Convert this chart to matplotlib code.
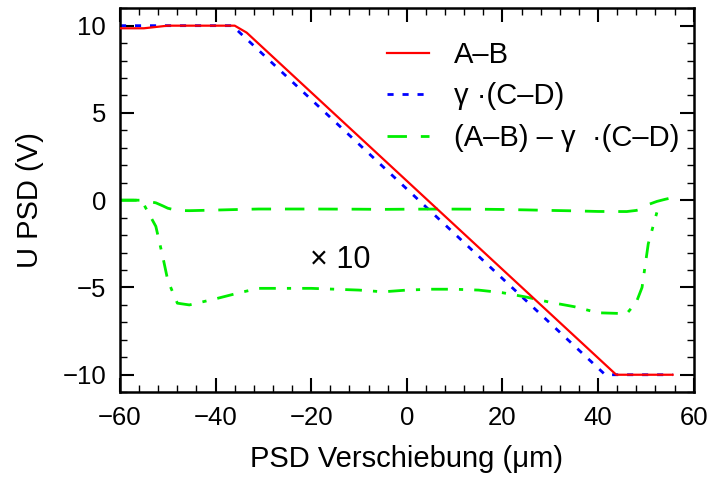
import matplotlib
matplotlib.use("Agg")
import matplotlib.pyplot as plt
import numpy as np
from matplotlib.ticker import MultipleLocator

plt.rcParams['font.family'] = ['Liberation Sans', 'DejaVu Sans']
plt.rcParams['axes.unicode_minus'] = True

# A-B signal
x_ab = [-60, -55, -50, -36, -33.5, 43.8, 55.6]
u_ab = [9.85, 9.85, 10.0, 10.0, 9.6, -10.0, -10.0]

# gamma*(C-D) signal
x_cd = [-60, -36.5, 41.5, 55.6]
u_cd = [10.0, 10.0, -10.0, -10.0]

# difference (A-B) - gamma*(C-D)
x_diff = [-60, -55.5, -52.5, -51, -50, -48, -45.5, -40, -35, -31, -25, -20, -15,
          -10, -5, 0, 5, 10, 15, 20, 25, 30, 35, 40, 46, 48, 49.2, 50.5, 52.3,
          54, 55.6]
u_diff = [0.0, 0.0, -0.15, -0.33, -0.46, -0.59, -0.60, -0.565, -0.53, -0.505,
          -0.505, -0.505, -0.51, -0.515, -0.525, -0.515, -0.51, -0.51, -0.515,
          -0.53, -0.555, -0.585, -0.61, -0.645, -0.65, -0.585, -0.50, -0.25,
          -0.07, 0.05, 0.15]
scale = 10
x_max_scaled = 52.3  # scaled curve stops where it rejoins the zero line

fig = plt.figure(figsize=(7.1, 4.83), dpi=100)
ax = fig.add_axes([0.169, 0.188, 0.808, 0.795])

green = '#00ee00'
ax.plot(x_ab, u_ab, color='#ff0000', lw=1.6, label='A–B', zorder=3)
ax.plot(x_cd, u_cd, color='#0000ff', lw=2.0, ls=(0, (2.2, 3.2)),
        label='γ ·(C–D)', zorder=2)
ax.plot(x_diff, u_diff, color=green, lw=2.0, ls=(0, (7, 5)),
        label='(A–B) – γ  ·(C–D)')
xd = np.array(x_diff)
ud = np.array(u_diff)
keep = xd <= x_max_scaled
ax.plot(xd[keep], scale * ud[keep], color=green, lw=2.0,
        ls=(0, (6, 4, 1.5, 4)))

ax.text(-14, -3.45, '× 10', fontsize=22, ha='center', va='center')

ax.set_xlim(-60, 60)
ax.set_ylim(-11, 11)
ax.xaxis.set_major_locator(MultipleLocator(20))
ax.xaxis.set_minor_locator(MultipleLocator(4))
ax.yaxis.set_major_locator(MultipleLocator(5))
ax.yaxis.set_minor_locator(MultipleLocator(1))
ax.tick_params(which='both', direction='in', top=True, right=True,
               labelsize=18.5, colors='black')
ax.tick_params(which='major', length=10, width=1.5, pad=10)
ax.tick_params(which='minor', length=5, width=1.0)
for s in ax.spines.values():
    s.set_linewidth(1.8)

ax.set_xlabel('PSD Verschiebung (μm)', fontsize=21, labelpad=11)
ax.set_ylabel('U PSD (V)', fontsize=21, labelpad=13)

ax.legend(loc='upper right', bbox_to_anchor=(1.01, 0.968), frameon=False,
          fontsize=21, handlelength=1.45, handletextpad=0.85, labelspacing=0.46,
          borderaxespad=0.3)

fig.savefig('out.png', dpi=100)
plt.close(fig)
